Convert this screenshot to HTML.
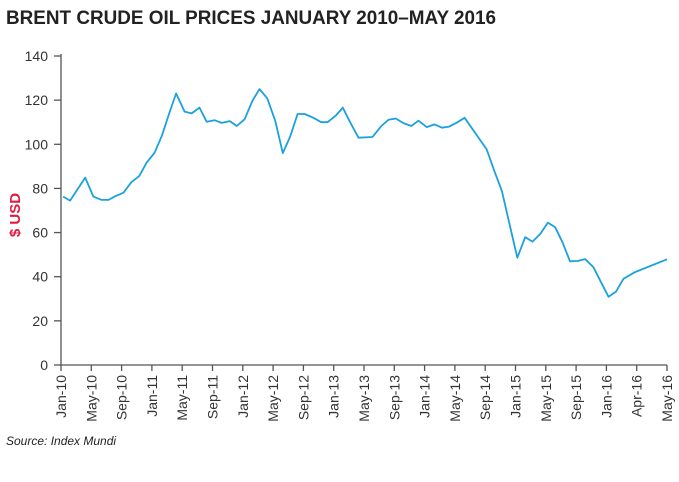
<!DOCTYPE html>
<html><head><meta charset="utf-8"><style>
body{margin:0;background:#fff;font-family:"Liberation Sans",sans-serif}
svg{display:block}
</style></head><body>
<svg id="chart" width="679" height="482" viewBox="0 0 679 482">
<text x="6" y="24" font-size="19" font-weight="bold" fill="#222" textLength="490" lengthAdjust="spacingAndGlyphs">BRENT CRUDE OIL PRICES JANUARY 2010–MAY 2016</text>
<text transform="translate(20,215) rotate(-90)" text-anchor="middle" font-size="15" font-weight="bold" fill="#e5193f">$ USD</text>
<text x="6" y="445" font-size="12" font-style="italic" fill="#222">Source: Index Mundi</text>
<g id="axes"></g>
<g id="series"></g>
</svg>
<script>
const categories=["Jan-10","May-10","Sep-10","Jan-11","May-11","Sep-11","Jan-12","May-12","Sep-12","Jan-13","May-13","Sep-13","Jan-14","May-14","Sep-14","Jan-15","May-15","Sep-15","Jan-16","Apr-16","May-16"];
const yTicks=[0,20,40,60,80,100,120,140];
const pointPos=[0.07,0.3,0.8,1.07,1.34,1.57,1.79,2.06,2.32,2.58,2.83,3.09,3.33,3.57,3.8,4.08,4.31,4.57,4.81,5.07,5.3,5.57,5.8,6.06,6.32,6.55,6.81,7.07,7.32,7.56,7.81,8.04,8.33,8.59,8.8,9.07,9.3,9.54,9.82,10.28,10.57,10.81,11.05,11.3,11.56,11.8,12.07,12.33,12.57,12.81,13.06,13.32,14.05,14.31,14.55,15.06,15.32,15.56,15.82,16.07,16.31,16.55,16.8,17.04,17.3,17.57,18.07,18.31,18.56,18.93,20];
const prices=[76.3,74.5,84.9,76.3,74.8,74.8,76.5,78,82.8,85.6,91.7,96.2,103.9,114,123,114.8,114,116.6,110.2,110.9,109.7,110.5,108.3,111.3,119.8,125,120.8,110.7,96,103.4,113.7,113.7,112,110,110,113,116.6,110,103,103.3,108.3,111.1,111.7,109.6,108.3,110.7,107.8,109,107.5,108,109.8,112,97.7,87.6,78.8,48.6,57.9,55.9,59.4,64.5,62.4,55.6,47,47.1,48,44.3,30.9,33.1,39,42,47.9];
const NS="http://www.w3.org/2000/svg";
const x0=61,x1=667,y0=365,y1=56;
const xs=t=>x0+t*(x1-x0)/(categories.length-1);
const ys=v=>y0-v*(y0-y1)/140;
const ax=document.getElementById('axes'),se=document.getElementById('series');
function mk(tag,at,parent){const e=document.createElementNS(NS,tag);for(const k in at)e.setAttribute(k,at[k]);parent.appendChild(e);return e;}
const yl=mk('line',{x1:x0,y1:y1-2,x2:x0,y2:y0,stroke:'#555','stroke-width':1.3},ax);


const xl=mk('line',{x1:x0,y1:y0,x2:x1,y2:y0,stroke:'#555','stroke-width':1.3},ax);


yTicks.forEach(v=>{
 const t=mk('line',{x1:x0-7,y1:ys(v),x2:x0,y2:ys(v),stroke:'#555','stroke-width':1.3},ax);
 
 
 const l=mk('text',{x:x0-13,y:ys(v)+5,'text-anchor':'end','font-size':14,fill:'#333'},ax);
 l.textContent=v;
 
 
});
categories.forEach((c,i)=>{
 const x=xs(i);
 const t=mk('line',{x1:x,y1:y0,x2:x,y2:y0+6,stroke:'#555','stroke-width':1.3},ax);
 
 
 const l=mk('text',{transform:`translate(${x+5},${y0+10}) rotate(-90)`,'text-anchor':'end','font-size':14,fill:'#333'},ax);
 l.textContent=c;
 
 
});
const d=prices.map((v,i)=>(i?'L':'M')+xs(pointPos[i]).toFixed(1)+','+ys(v).toFixed(1)).join(' ');
const p=mk('path',{d:d,fill:'none',stroke:'#1ba1dc','stroke-width':1.8,'stroke-linejoin':'round'},se);


</script>
</body></html>
